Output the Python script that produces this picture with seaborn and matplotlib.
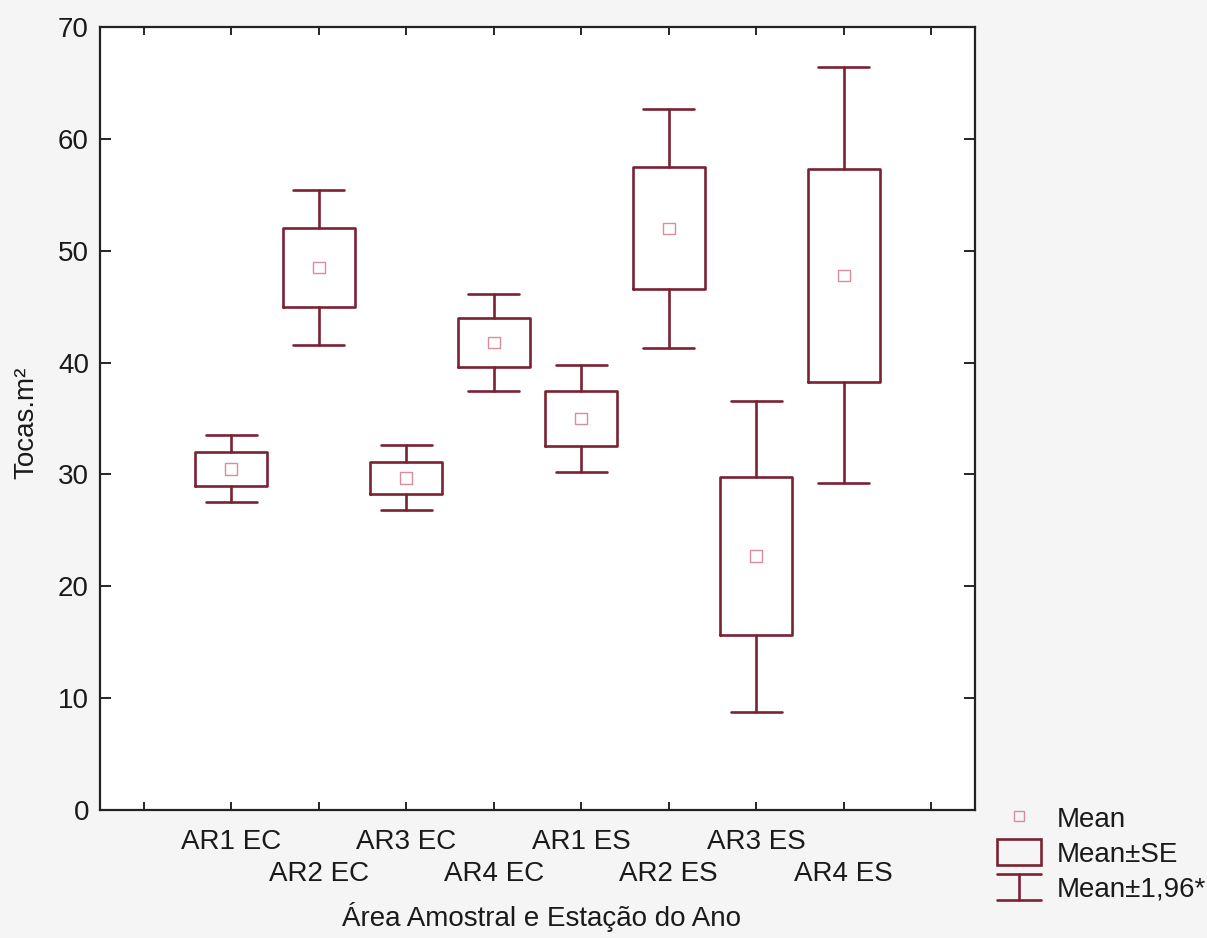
import numpy as np
import pandas as pd
import seaborn as sns
import matplotlib.pyplot as plt
from matplotlib.lines import Line2D
from matplotlib.patches import Rectangle
from matplotlib.legend_handler import HandlerBase

# values (Tocas.m2)
groups = ["AR1 EC", "AR2 EC", "AR3 EC", "AR4 EC", "AR1 ES", "AR2 ES", "AR3 ES", "AR4 ES"]
means = [30.5, 48.5, 29.7, 41.8, 35.0, 52.0, 22.7, 47.8]
se = [1.5, 3.5, 1.45, 2.2, 2.45, 5.45, 7.1, 9.5]
ci = [3.0, 6.9, 2.9, 4.3, 4.8, 10.7, 13.9, 18.6]

dark = "#7b2233"
pink = "#d98c9c"
txt = "#1a1a1a"
lw = 1.9

sns.set_style("ticks")
plt.rcParams["font.family"] = ["Liberation Sans", "DejaVu Sans"]

df = pd.DataFrame({"grupo": groups, "media": means, "se": se, "ci": ci})
df["pos"] = np.arange(len(df))

fig = plt.figure(figsize=(12.07, 9.38), dpi=100, facecolor="#f5f5f6")
ax = fig.add_axes([0.0829, 0.1365, 0.7249, 0.8347])
ax.set_facecolor("white")

# box = mean +- SE, whiskers = mean +- 1.96*SE
stats = []
for _, r in df.iterrows():
    stats.append({"med": r.media, "q1": r.media - r.se, "q3": r.media + r.se,
                  "whislo": r.media - r.ci, "whishi": r.media + r.ci,
                  "fliers": [], "label": r.grupo})
ax.bxp(stats, positions=df.pos, widths=0.82, capwidths=0.58, showfliers=False,
       boxprops=dict(color=dark, linewidth=lw),
       whiskerprops=dict(color=dark, linewidth=lw),
       capprops=dict(color=dark, linewidth=lw),
       medianprops=dict(visible=False), manage_ticks=False)

sns.scatterplot(data=df, x="pos", y="media", marker="s", s=70, facecolor="none",
                edgecolor=pink, linewidth=1.0, ax=ax, zorder=5, legend=False)

ax.set_xlim(-1.5, len(groups) + 0.5)
ax.set_ylim(0, 70)
ax.set_yticks(range(0, 71, 10))

# staggered labels: even groups on major ticks, odd groups on minor ticks (lower row)
n = len(groups)
major = [-1] + list(range(0, n, 2)) + [n]
minor = list(range(1, n, 2))
ax.set_xticks(major)
ax.set_xticklabels([""] + groups[0::2] + [""], fontsize=20, color=txt)
ax.set_xticks(minor, minor=True)
ax.set_xticklabels(groups[1::2], minor=True, fontsize=20, color=txt)

ax.tick_params(axis="y", labelsize=20, direction="in", length=8, width=1.4,
               right=True, pad=8, labelcolor=txt)
ax.tick_params(axis="x", which="major", direction="in", length=6, width=1.4,
               top=True, pad=14)
ax.tick_params(axis="x", which="minor", direction="in", length=6, width=1.4,
               top=True, pad=37)
for s in ax.spines.values():
    s.set_linewidth(1.6)
    s.set_color("#222222")

ax.set_xlabel("Área Amostral e Estação do Ano", fontsize=20, color=txt)
ax.set_ylabel("Tocas.m²", fontsize=20, color=txt)
ax.xaxis.set_label_coords(0.504, -0.117)
ax.yaxis.set_label_coords(-0.069, 0.495)


class WhiskerHandler(HandlerBase):
    def create_artists(self, legend, orig_handle, xdescent, ydescent,
                       width, height, fontsize, trans):
        x0, x1 = -xdescent, -xdescent + width
        y0, y1 = -ydescent, -ydescent + height
        cx = (x0 + x1) / 2
        kw = dict(color=dark, linewidth=lw, transform=trans)
        return [Line2D([x0, x1], [y1, y1], **kw),
                Line2D([cx, cx], [y0, y1], **kw),
                Line2D([x0, x1], [y0, y0], **kw)]


h_mean = Line2D([], [], marker="s", linestyle="none", markerfacecolor="none",
                markeredgecolor=pink, markersize=6.5, markeredgewidth=1.0)
h_box = Rectangle((0, 0), 1, 1, facecolor="none", edgecolor=dark, linewidth=lw)
h_whisk = object()
leg = fig.legend([h_mean, h_box, h_whisk], ["Mean", "Mean±SE", "Mean±1,96*"],
                 handler_map={h_whisk: WhiskerHandler()},
                 loc="upper left", bbox_to_anchor=(0.826, 0.142),
                 bbox_transform=fig.transFigure, frameon=False, fontsize=20,
                 handlelength=1.6, handleheight=1.05, labelspacing=0.22,
                 handletextpad=0.55, borderpad=0, borderaxespad=0)
for t in leg.get_texts():
    t.set_color(txt)

fig.savefig("out.png", dpi=100, facecolor=fig.get_facecolor())
